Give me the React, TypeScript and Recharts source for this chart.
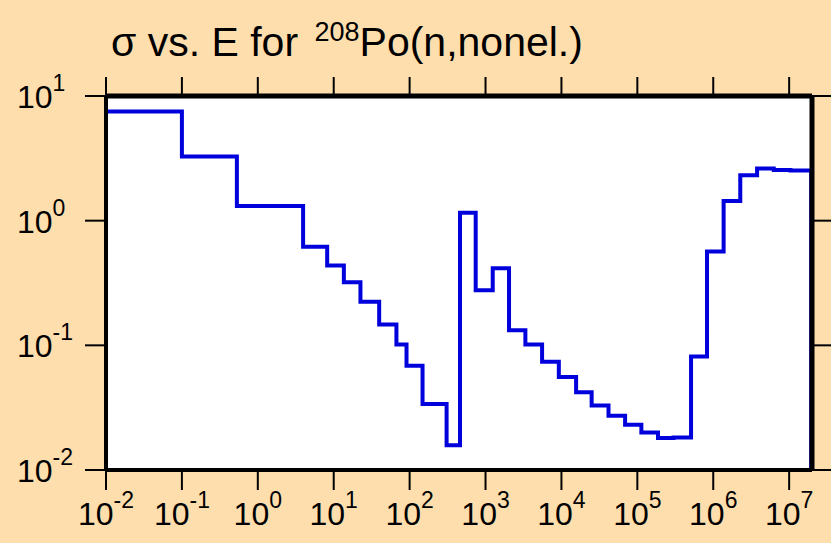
import React from 'react';
import { LineChart, Line, XAxis, YAxis, CartesianGrid } from 'recharts';

// Lower bin edges (eV) and cross sections (b)
const binEdges = [
  0.01, 0.1, 0.53, 3.95, 8.2, 13.6, 22.5, 39.7, 67, 91, 148, 307, 461, 742, 1244,
  2040, 3350, 5560, 9240, 15600, 25000, 41700, 69000, 113000, 187000, 300000,
  510000, 828000, 1.37e6, 2.27e6, 3.78e6, 6.27e6, 1.04e7,
];
const sigmaValues = [
  7.5, 3.27, 1.31, 0.618, 0.436, 0.32, 0.224, 0.147, 0.1016, 0.0686, 0.0339, 0.0158,
  1.16, 0.277, 0.416, 0.132, 0.1016, 0.0738, 0.0556, 0.042, 0.0329, 0.0273, 0.0231,
  0.02, 0.0181, 0.0182, 0.0815, 0.566, 1.44, 2.31, 2.62, 2.55, 2.53,
];
const upperEdge = 1.95e7;
const xTicks = [1e-2, 1e-1, 1e0, 1e1, 1e2, 1e3, 1e4, 1e5, 1e6, 1e7];
const yTicks = [1e-2, 1e-1, 1e0, 1e1];
const xDomain = [0.01, 2e7];
const yDomain = [0.01, 10];

const data = [
  { E: binEdges[0], s: yDomain[0] },
  ...binEdges.map((e, i) => ({ E: e, s: sigmaValues[i] })),
  { E: upperEdge, s: yDomain[0] },
];

const FONT = 'Liberation Sans, Arial, Helvetica, sans-serif';
const BG = '#FFDEAD';

const expOf = (v: number) => Math.round(Math.log10(v));

const XTick = (props: any) => {
  const { x, y, payload } = props;
  return (
    <text x={x} y={y + 33} textAnchor="middle" fontFamily={FONT} fontSize={32} fill="#000">
      <tspan>10</tspan>
      <tspan dy={-17} fontSize={23}>{expOf(payload.value)}</tspan>
    </text>
  );
};

const YTick = (props: any) => {
  const { x, y, payload } = props;
  return (
    <text x={x - 66} y={y + 12} textAnchor="start" fontFamily={FONT} fontSize={32} fill="#000">
      <tspan>10</tspan>
      <tspan dy={-17} fontSize={23}>{expOf(payload.value)}</tspan>
    </text>
  );
};

const NoTick = () => <g />;

export default function App() {
  return (
    <div style={{ position: 'absolute', left: 0, top: 0, width: 831, height: 543, background: BG }}>
      <LineChart width={831} height={543} data={data} margin={{ top: 0, right: 0, bottom: 0, left: 0 }}>
        <CartesianGrid xAxisId="bottom" yAxisId="left" fill="#ffffff" stroke="transparent" horizontal={false} vertical={false} />
        <XAxis
          xAxisId="bottom"
          dataKey="E"
          type="number"
          scale="log"
          domain={xDomain}
          allowDataOverflow
          ticks={xTicks}
          interval={0}
          height={73}
          tickSize={20}
          tick={<XTick />}
          axisLine={{ stroke: '#000', strokeWidth: 4 }}
          tickLine={{ stroke: '#000', strokeWidth: 2 }}
        />
        <XAxis
          xAxisId="top"
          orientation="top"
          dataKey="E"
          type="number"
          scale="log"
          domain={xDomain}
          allowDataOverflow
          ticks={xTicks}
          interval={0}
          height={96}
          tickSize={19}
          tick={<NoTick />}
          axisLine={{ stroke: '#000', strokeWidth: 5 }}
          tickLine={{ stroke: '#000', strokeWidth: 2 }}
        />
        <YAxis
          yAxisId="left"
          type="number"
          scale="log"
          domain={yDomain}
          allowDataOverflow
          ticks={yTicks}
          interval={0}
          width={106}
          tickSize={21}
          tick={<YTick />}
          axisLine={{ stroke: '#000', strokeWidth: 4 }}
          tickLine={{ stroke: '#000', strokeWidth: 2 }}
        />
        <YAxis
          yAxisId="right"
          orientation="right"
          type="number"
          scale="log"
          domain={yDomain}
          allowDataOverflow
          ticks={yTicks}
          interval={0}
          width={19}
          tickSize={19}
          tick={<NoTick />}
          axisLine={{ stroke: '#000', strokeWidth: 5 }}
          tickLine={{ stroke: '#000', strokeWidth: 2 }}
        />
        <Line
          xAxisId="bottom"
          yAxisId="left"
          type="stepAfter"
          dataKey="s"
          stroke="#0000dd"
          strokeWidth={4}
          strokeLinejoin="miter"
          strokeLinecap="butt"
          dot={false}
          activeDot={false}
          isAnimationActive={false}
        />
      </LineChart>
      <svg width={831} height={90} style={{ position: 'absolute', left: 0, top: 0 }}>
        <text x={111} y={56} fontFamily={FONT} fontSize={41} fill="#000">
          <tspan>σ vs. E for </tspan>
          <tspan dx={5} dy={-15} fontSize={27}>208</tspan>
          <tspan dy={15} fontSize={41}>Po(n,nonel.)</tspan>
        </text>
      </svg>
    </div>
  );
}
